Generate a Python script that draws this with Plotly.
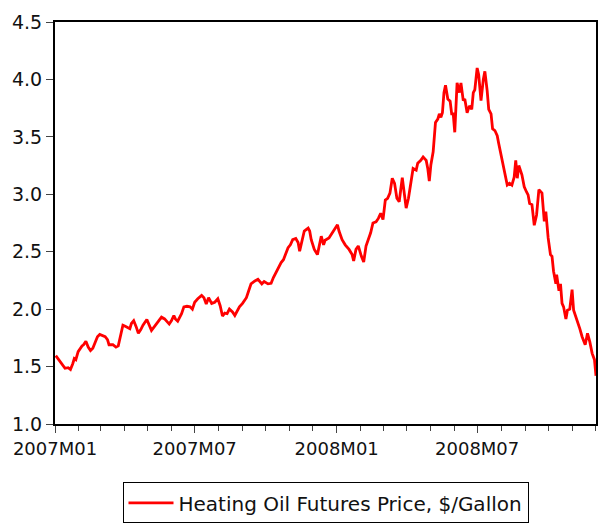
import plotly.graph_objects as go

dates = [
    "2007-01-02", "2007-01-05", "2007-01-08", "2007-01-11", "2007-01-14", "2007-01-18", "2007-01-21", "2007-01-24",
    "2007-01-26", "2007-01-28", "2007-01-31", "2007-02-05", "2007-02-07", "2007-02-10", "2007-02-13", "2007-02-16",
    "2007-02-19", "2007-02-22", "2007-02-25", "2007-02-28", "2007-03-04", "2007-03-07", "2007-03-10", "2007-03-12",
    "2007-03-17", "2007-03-21", "2007-03-24", "2007-03-27", "2007-03-30", "2007-04-02", "2007-04-04", "2007-04-08",
    "2007-04-10", "2007-04-13", "2007-04-16", "2007-04-19", "2007-04-22", "2007-04-25", "2007-04-30", "2007-05-03",
    "2007-05-06", "2007-05-10", "2007-05-15", "2007-05-19", "2007-05-23", "2007-05-26", "2007-05-29", "2007-06-01",
    "2007-06-04", "2007-06-06", "2007-06-09", "2007-06-14", "2007-06-17", "2007-06-21", "2007-06-25", "2007-06-28",
    "2007-07-01", "2007-07-05", "2007-07-10", "2007-07-13", "2007-07-16", "2007-07-19", "2007-07-23", "2007-07-27",
    "2007-07-31", "2007-08-03", "2007-08-06", "2007-08-09", "2007-08-12", "2007-08-15", "2007-08-19", "2007-08-22",
    "2007-08-25", "2007-08-28", "2007-09-01", "2007-09-06", "2007-09-09", "2007-09-12", "2007-09-17", "2007-09-21",
    "2007-09-26", "2007-09-29", "2007-10-04", "2007-10-08", "2007-10-11", "2007-10-15", "2007-10-18", "2007-10-21",
    "2007-10-24", "2007-10-27", "2007-10-30", "2007-11-02", "2007-11-05", "2007-11-09", "2007-11-12", "2007-11-14",
    "2007-11-17", "2007-11-20", "2007-11-25", "2007-11-27", "2007-11-29", "2007-12-03", "2007-12-07", "2007-12-10",
    "2007-12-12", "2007-12-15", "2007-12-17", "2007-12-22", "2007-12-26", "2007-12-29", "2008-01-02", "2008-01-04",
    "2008-01-08", "2008-01-12", "2008-01-17", "2008-01-21", "2008-01-23", "2008-01-26", "2008-01-29", "2008-02-02",
    "2008-02-05", "2008-02-08", "2008-02-11", "2008-02-14", "2008-02-17", "2008-02-21", "2008-02-24", "2008-02-27",
    "2008-03-01", "2008-03-04", "2008-03-07", "2008-03-10", "2008-03-13", "2008-03-16", "2008-03-19", "2008-03-22",
    "2008-03-26", "2008-03-28", "2008-03-31", "2008-04-03", "2008-04-06", "2008-04-09", "2008-04-13", "2008-04-15",
    "2008-04-19", "2008-04-22", "2008-04-26", "2008-04-28", "2008-04-30", "2008-05-02", "2008-05-05", "2008-05-08",
    "2008-05-11", "2008-05-13", "2008-05-15", "2008-05-17", "2008-05-19", "2008-05-21", "2008-05-24", "2008-05-27",
    "2008-05-29", "2008-05-31", "2008-06-02", "2008-06-05", "2008-06-08", "2008-06-10", "2008-06-13", "2008-06-15",
    "2008-06-18", "2008-06-21", "2008-06-24", "2008-06-26", "2008-06-28", "2008-07-01", "2008-07-03", "2008-07-06",
    "2008-07-09", "2008-07-11", "2008-07-14", "2008-07-16", "2008-07-19", "2008-07-21", "2008-07-24", "2008-07-27",
    "2008-07-29", "2008-08-01", "2008-08-03", "2008-08-05", "2008-08-07", "2008-08-09", "2008-08-12", "2008-08-15",
    "2008-08-18", "2008-08-20", "2008-08-22", "2008-08-24", "2008-08-28", "2008-08-31", "2008-09-03", "2008-09-05",
    "2008-09-07", "2008-09-10", "2008-09-13", "2008-09-16", "2008-09-19", "2008-09-23", "2008-09-26", "2008-09-28",
    "2008-10-01", "2008-10-04", "2008-10-06", "2008-10-08", "2008-10-11", "2008-10-12", "2008-10-15", "2008-10-17",
    "2008-10-19", "2008-10-21", "2008-10-24", "2008-10-26", "2008-10-29", "2008-11-01", "2008-11-03", "2008-11-08",
    "2008-11-11", "2008-11-14", "2008-11-18", "2008-11-21", "2008-11-24", "2008-11-27", "2008-11-30", "2008-12-02",
]

prices = [
    1.595, 1.57, 1.54, 1.52, 1.485, 1.49, 1.475, 1.525,
    1.57, 1.56, 1.63, 1.68, 1.69, 1.72, 1.67, 1.64,
    1.66, 1.71, 1.76, 1.78, 1.765, 1.76, 1.735, 1.69,
    1.69, 1.67, 1.68, 1.765, 1.86, 1.85, 1.845, 1.83,
    1.875, 1.90, 1.85, 1.79, 1.82, 1.86, 1.91, 1.86,
    1.815, 1.85, 1.89, 1.93, 1.915, 1.89, 1.87, 1.90,
    1.945, 1.915, 1.895, 1.96, 2.02, 2.025, 2.02, 2.00,
    2.06, 2.09, 2.12, 2.10, 2.045, 2.10, 2.05, 2.06,
    2.09, 2.03, 1.94, 1.965, 1.96, 2.00, 1.975, 1.945,
    1.98, 2.02, 2.05, 2.10, 2.16, 2.22, 2.245, 2.26,
    2.22, 2.24, 2.22, 2.225, 2.275, 2.33, 2.375, 2.405,
    2.43, 2.49, 2.535, 2.56, 2.605, 2.615, 2.58, 2.505,
    2.59, 2.68, 2.705, 2.68, 2.605, 2.52, 2.475, 2.58,
    2.635, 2.56, 2.60, 2.62, 2.665, 2.69, 2.735, 2.68,
    2.605, 2.56, 2.52, 2.475, 2.42, 2.52, 2.55, 2.46,
    2.41, 2.55, 2.60, 2.665, 2.75, 2.76, 2.79, 2.835,
    2.78, 2.95, 2.965, 3.01, 3.14, 3.095, 2.965, 2.935,
    3.145, 3.02, 2.88, 2.965, 3.095, 3.225, 3.21, 3.27,
    3.295, 3.325, 3.295, 3.225, 3.115, 3.255, 3.37, 3.625,
    3.655, 3.70, 3.67, 3.71, 3.885, 3.95, 3.83, 3.81,
    3.70, 3.70, 3.54, 3.97, 3.885, 3.97, 3.815, 3.83,
    3.71, 3.77, 3.74, 3.885, 3.91, 4.10, 4.04, 3.815,
    4.00, 4.07, 3.90, 3.74, 3.70, 3.57, 3.555, 3.51,
    3.44, 3.34, 3.25, 3.195, 3.125, 3.08, 3.095, 3.08,
    3.15, 3.295, 3.14, 3.25, 3.17, 3.065, 3.02, 2.995,
    2.92, 2.91, 2.73, 2.82, 3.04, 3.01, 2.765, 2.85,
    2.62, 2.475, 2.46, 2.33, 2.22, 2.30, 2.16, 2.22,
    2.05, 2.02, 1.915, 1.99, 2.00, 2.17, 1.99, 1.90,
    1.83, 1.76, 1.69, 1.79, 1.715, 1.615, 1.56, 1.42,
]

series_name = "Heating Oil Futures Price, $/Gallon"

fig = go.Figure()
fig.add_trace(go.Scatter(
    x=dates, y=prices, mode="lines", name=series_name,
    line=dict(color="#ff0000", width=2.8),
))

font_family = "DejaVu Sans, Liberation Sans, Arial, sans-serif"

fig.update_layout(
    width=600, height=525,
    margin=dict(l=55, r=2, t=22, b=97),
    paper_bgcolor="white", plot_bgcolor="white",
    font=dict(family=font_family, size=18, color="#111111"),
    showlegend=True,
    legend=dict(
        x=0.5, xanchor="center", y=-0.145, yanchor="top",
        bordercolor="black", borderwidth=1, bgcolor="white",
        itemwidth=45,
        font=dict(family=font_family, size=20, color="#111111"),
    ),
)

fig.update_xaxes(
    type="date", range=["2007-01-01", "2008-12-02"],
    tick0="2007-01-01", dtick="M6", tickformat="%YM%m",
    ticks="outside", ticklen=7, tickwidth=1, tickcolor="#444444",
    showline=True, linecolor="black", linewidth=2, mirror=True,
    showgrid=False, zeroline=False,
    minor=dict(dtick="M1", ticks="outside", ticklen=5, tickwidth=1, tickcolor="#444444", showgrid=False),
)

fig.update_yaxes(
    range=[1.0, 4.5], tick0=1.0, dtick=0.5, tickformat=".1f",
    tickfont=dict(size=19),
    ticks="outside", ticklen=7, tickwidth=1, tickcolor="#444444",
    showline=True, linecolor="black", linewidth=2, mirror=True,
    showgrid=False, zeroline=False,
)

fig.write_html(
    "out.html",
    config={"displayModeBar": False},
    post_script="document.body.style.margin='0';document.body.style.overflow='hidden';",
)
